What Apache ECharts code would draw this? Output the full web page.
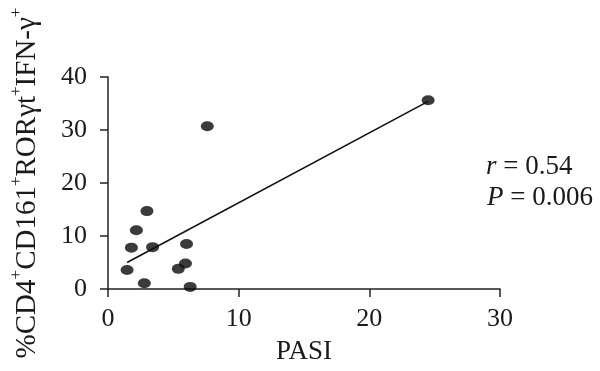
<!DOCTYPE html>
<html><head><meta charset="utf-8">
<script src="https://cdn.jsdelivr.net/npm/echarts@6/dist/echarts.min.js"></script>
<style>html,body{margin:0;padding:0;background:#fff}#c{width:600px;height:371px}</style>
</head><body><div id="c"></div>
<script>
var pasi = [1.46, 1.79, 2.17, 2.98, 2.78, 3.41, 5.38, 5.93, 6.01, 6.29, 7.6, 24.5];
var cells = [3.6, 7.8, 11.1, 14.7, 1.1, 7.9, 3.8, 4.8, 8.5, 0.4, 30.7, 35.6];
var fitX = [1.46, 24.5];
var fitY = [5.0, 35.4];
var xTicks = [0, 10, 20, 30];
var yTicks = [0, 10, 20, 30, 40];
var statR = "0.54";
var statP = "0.006";

var pts = pasi.map(function(x, i){ return [x, cells[i]]; });
var fit = fitX.map(function(x, i){ return [x, fitY[i]]; });
var serif = "'Liberation Serif', 'Times New Roman', serif";
var chart = echarts.init(document.getElementById('c'));
chart.setOption({
  animation: false,
  backgroundColor: '#fff',
  grid: {left: 104, right: 100, top: 77, bottom: 82, containLabel: false},
  xAxis: {
    type: 'value', min: xTicks[0], max: xTicks[xTicks.length-1], interval: 10,
    name: 'PASI', nameLocation: 'middle', nameGap: 49,
    nameTextStyle: {fontFamily: serif, fontSize: 27, color: '#1a1a1a'},
    axisLine: {lineStyle: {color: '#222', width: 1.5}},
    axisTick: {show: true, length: 8, lineStyle: {color: '#222', width: 1.5}},
    axisLabel: {fontFamily: serif, fontSize: 26, color: '#1a1a1a', margin: 17},
    splitLine: {show: false}
  },
  yAxis: {
    type: 'value', min: yTicks[0], max: yTicks[yTicks.length-1], interval: 10,
    name: '{n|%CD4}{s|+}{n|CD161}{s|+}{n|RORγt}{s|+}{n|IFN-γ}{s|+}',
    nameLocation: 'middle', nameRotate: 90, nameGap: 66,
    nameTextStyle: {
      fontFamily: serif, fontSize: 29, color: '#1a1a1a',
      rich: {
        n: {fontFamily: serif, fontSize: 29, color: '#1a1a1a', lineHeight: 34, verticalAlign: 'bottom'},
        s: {fontFamily: serif, fontSize: 17, color: '#1a1a1a', lineHeight: 34, verticalAlign: 'top', padding: [0,0,14,0]}
      }
    },
    axisLine: {show: true, lineStyle: {color: '#222', width: 1.5}},
    axisTick: {show: true, length: 8, lineStyle: {color: '#222', width: 1.5}},
    axisLabel: {fontFamily: serif, fontSize: 26, color: '#1a1a1a', margin: 21},
    splitLine: {show: false}
  },
  series: [
    {type: 'line', data: fit, symbol: 'none', lineStyle: {color: '#111', width: 1.6}, z: 2},
    {type: 'scatter', data: pts, symbol: 'circle', symbolSize: [13, 10], itemStyle: {color: '#0a0a0a'}, z: 3}
  ],
  graphic: [
    {type: 'text', left: 486, top: 153, style: {
      text: '{i|r} = ' + statR, fontFamily: serif, fontSize: 27, fill: '#1a1a1a',
      rich: {i: {fontFamily: serif, fontStyle: 'italic', fontSize: 27, fill: '#1a1a1a'}}}},
    {type: 'text', left: 487, top: 184, style: {
      text: '{i|P} = ' + statP, fontFamily: serif, fontSize: 27, fill: '#1a1a1a',
      rich: {i: {fontFamily: serif, fontStyle: 'italic', fontSize: 27, fill: '#1a1a1a'}}}}
  ]
});
</script></body></html>
